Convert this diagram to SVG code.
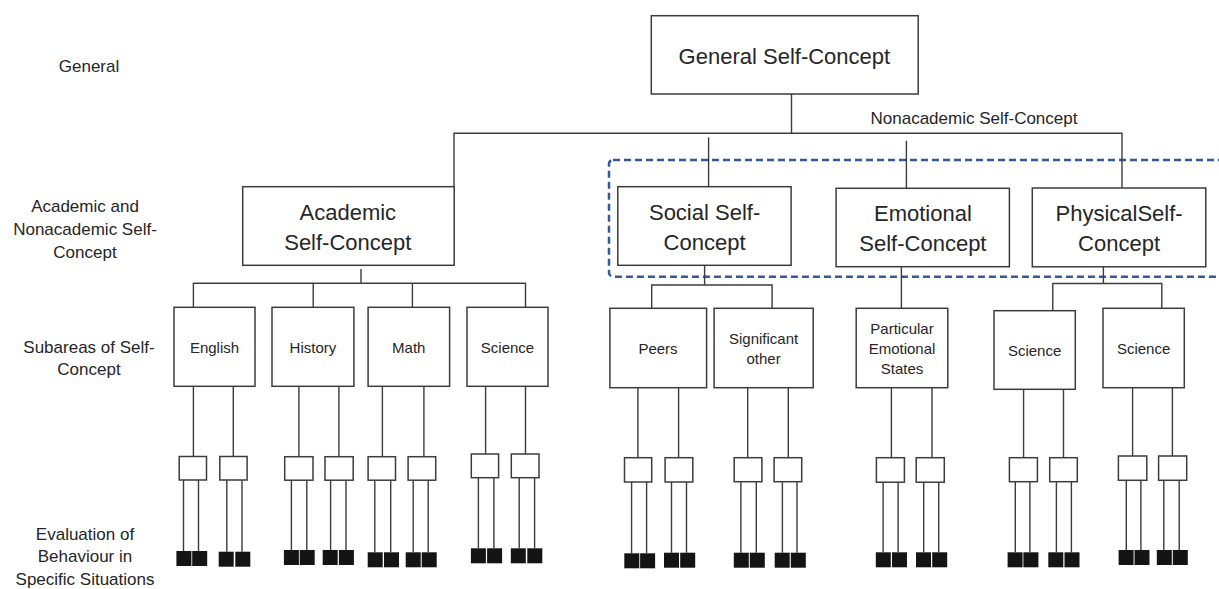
<svg xmlns="http://www.w3.org/2000/svg" width="1219" height="589" viewBox="0 0 1219 589">
  <style>
    .box { fill: #ffffff; stroke: #3c3c3c; stroke-width: 1.5; }
    .conn { fill: none; stroke: #3c3c3c; stroke-width: 1.4; }
    .blk { fill: #141414; }
    .group-frame { fill: none; stroke: #35589a; stroke-width: 2.5; stroke-dasharray: 7 4; }
    text { font-family: "Liberation Sans", Arial, sans-serif; fill: #262626; text-anchor: middle; }
    .big { font-size: 22px; }
    .lab { font-size: 17px; }
    .sm { font-size: 15px; }
  </style>

  <!-- level labels -->
  <g id="level-labels">
    <text class="lab" x="89" y="72">General</text>
    <text class="lab" x="85" y="212">Academic and</text>
    <text class="lab" x="85" y="235">Nonacademic Self-</text>
    <text class="lab" x="85" y="258">Concept</text>
    <text class="lab" x="89" y="352.5">Subareas of Self-</text>
    <text class="lab" x="89" y="375">Concept</text>
    <text class="lab" x="85" y="539.5">Evaluation of</text>
    <text class="lab" x="85" y="562">Behaviour in</text>
    <text class="lab" x="85" y="584.5">Specific Situations</text>
  </g>

  <!-- nonacademic grouping frame -->
  <g id="nonacademic-group">
    <rect class="group-frame" x="609" y="160" width="700" height="116.7" rx="4"/>
    <text class="lab" x="974" y="124">Nonacademic Self-Concept</text>
  </g>

  <!-- connectors -->
  <g id="connectors" class="conn">
    <path d="M791.5 94 V133.3"/>
    <path d="M454 186.7 V133.3 H1122 V187.7"/>
    <path d="M708.6 137.3 V186.7"/>
    <path d="M906.4 140.7 V188.3"/>

    <path d="M361 269 V283.3"/>
    <path d="M193.4 307.3 V283.3 H525.5 V307.3"/>
    <path d="M313.2 283.3 V307.3 M412.4 283.3 V307.3"/>

    <path d="M704.6 265.3 V285"/>
    <path d="M651.7 308.3 V285 H772.1 V308.3"/>
    <path d="M901.4 266.7 V308.3"/>
    <path d="M1103.4 266.7 V283.5"/>
    <path d="M1052.8 310.7 V283.5 H1161.8 V308.3"/>

    <!-- English -->
    <path d="M193.4 386.3 V456.5 M233.3 386.3 V456.5"/>
    <path d="M183.5 480 V551 M198.5 480 V551 M226.8 480 V551.7 M242 480 V551.7"/>
    <!-- History -->
    <path d="M298.9 386.3 V456.7 M338.9 386.3 V456.7"/>
    <path d="M291.4 480.2 V550 M306.8 480.2 V550 M330.6 480.2 V550 M346 480.2 V550"/>
    <!-- Math -->
    <path d="M382.4 386.3 V456.7 M423.9 386.3 V456.7"/>
    <path d="M374.8 480.2 V552.3 M390.7 480.2 V552.3 M413.2 480.2 V552.3 M428.2 480.2 V552.3"/>
    <!-- Science -->
    <path d="M485.6 386.3 V454 M525.5 386.3 V454"/>
    <path d="M478.4 477.7 V548.3 M493.9 477.7 V548.3 M519.2 477.7 V548.3 M534.6 477.7 V548.3"/>
    <!-- Peers -->
    <path d="M637.9 387.7 V457.7 M678.6 387.7 V457.7"/>
    <path d="M631.6 482 V553.3 M646.6 482 V553.3 M671.5 482 V552.7 M686.5 482 V552.7"/>
    <!-- Significant other -->
    <path d="M747.7 387.7 V457.7 M788.3 387.7 V457.7"/>
    <path d="M740.9 481.7 V552.7 M756.3 481.7 V552.7 M782.4 481.7 V552.7 M797 481.7 V552.7"/>
    <!-- Particular emotional states -->
    <path d="M891.4 387.7 V457.7 M932 387.7 V457.7"/>
    <path d="M883.1 482.2 V552.3 M898.1 482.2 V552.3 M923.7 482.2 V552.3 M938.7 482.2 V552.3"/>
    <!-- Physical science 1 -->
    <path d="M1023.6 389.3 V457.7 M1063.5 389.3 V457.7"/>
    <path d="M1015.3 481.7 V552.3 M1029.9 481.7 V552.3 M1056.4 481.7 V552.3 M1071.4 481.7 V552.3"/>
    <!-- Physical science 2 -->
    <path d="M1132.6 387.7 V456 M1172.4 387.7 V456"/>
    <path d="M1126.3 480.3 V550 M1140.9 480.3 V550 M1163.8 480.3 V550 M1179.2 480.3 V550"/>
  </g>

  <!-- top level -->
  <g id="general">
    <rect class="box" x="651.3" y="15.7" width="266.9" height="78.3"/>
    <text class="big" x="784.4" y="64">General Self-Concept</text>
  </g>

  <!-- second level -->
  <g id="academic">
    <rect class="box" x="242.7" y="186.7" width="211.5" height="78.6"/>
    <text class="big" x="347.8" y="220">Academic</text>
    <text class="big" x="347.8" y="250">Self-Concept</text>
  </g>
  <g id="social">
    <rect class="box" x="617.8" y="186.7" width="173.3" height="78.6"/>
    <text class="big" x="704.6" y="220">Social Self-</text>
    <text class="big" x="704.6" y="250">Concept</text>
  </g>
  <g id="emotional">
    <rect class="box" x="836.1" y="188.3" width="173.3" height="78.4"/>
    <text class="big" x="922.9" y="221">Emotional</text>
    <text class="big" x="922.9" y="251">Self-Concept</text>
  </g>
  <g id="physical">
    <rect class="box" x="1032.3" y="188" width="173.5" height="78.8"/>
    <text class="big" x="1119.1" y="221">PhysicalSelf-</text>
    <text class="big" x="1119.1" y="251">Concept</text>
  </g>

  <!-- subareas -->
  <g id="english">
    <rect class="box" x="174" y="307.3" width="81" height="79"/>
    <text class="sm" x="214.5" y="352.5">English</text>
  </g>
  <g id="history">
    <rect class="box" x="272" y="307.3" width="81.9" height="79"/>
    <text class="sm" x="312.9" y="352.5">History</text>
  </g>
  <g id="math">
    <rect class="box" x="368.1" y="307.3" width="81.5" height="79"/>
    <text class="sm" x="408.8" y="352.5">Math</text>
  </g>
  <g id="science-academic">
    <rect class="box" x="467" y="307.3" width="81" height="79"/>
    <text class="sm" x="507.5" y="352.5">Science</text>
  </g>
  <g id="peers">
    <rect class="box" x="609.9" y="308.3" width="96.7" height="79.4"/>
    <text class="sm" x="658" y="354">Peers</text>
  </g>
  <g id="significant-other">
    <rect class="box" x="714.1" y="308.3" width="99.1" height="79.4"/>
    <text class="sm" x="763.6" y="344.3">Significant</text>
    <text class="sm" x="763.6" y="364">other</text>
  </g>
  <g id="emotional-states">
    <rect class="box" x="856.2" y="308.3" width="91.6" height="79.4"/>
    <text class="sm" x="902" y="334">Particular</text>
    <text class="sm" x="902" y="354">Emotional</text>
    <text class="sm" x="902" y="373.5">States</text>
  </g>
  <g id="science-physical-1">
    <rect class="box" x="994" y="310.7" width="81.3" height="78.6"/>
    <text class="sm" x="1034.6" y="356">Science</text>
  </g>
  <g id="science-physical-2">
    <rect class="box" x="1103" y="308.3" width="81.3" height="79.4"/>
    <text class="sm" x="1143.6" y="354">Science</text>
  </g>

  <!-- specific situations -->
  <g id="situations-english">
    <rect class="box" x="179.2" y="456.5" width="27.3" height="23.5"/>
    <rect class="box" x="219.8" y="456.5" width="27.3" height="23.5"/>
    <rect class="blk" x="176.4" y="551" width="15" height="15"/>
    <rect class="blk" x="192.2" y="551" width="15" height="15"/>
    <rect class="blk" x="218.7" y="551.7" width="15" height="15"/>
    <rect class="blk" x="235.3" y="551.7" width="15" height="15"/>
  </g>
  <g id="situations-history">
    <rect class="box" x="284.7" y="456.7" width="28.3" height="23.5"/>
    <rect class="box" x="325" y="456.7" width="28.2" height="23.5"/>
    <rect class="blk" x="283.9" y="550" width="15" height="15"/>
    <rect class="blk" x="299.7" y="550" width="15" height="15"/>
    <rect class="blk" x="322.7" y="550" width="15" height="15"/>
    <rect class="blk" x="338.9" y="550" width="15" height="15"/>
  </g>
  <g id="situations-math">
    <rect class="box" x="368.1" y="456.7" width="27.4" height="23.5"/>
    <rect class="box" x="408.1" y="456.7" width="27.6" height="23.5"/>
    <rect class="blk" x="367.7" y="552.3" width="15" height="15"/>
    <rect class="blk" x="384" y="552.3" width="15" height="15"/>
    <rect class="blk" x="405.7" y="552.3" width="15" height="15"/>
    <rect class="blk" x="421.7" y="552.3" width="15" height="15"/>
  </g>
  <g id="situations-science-academic">
    <rect class="box" x="471.3" y="454" width="27.3" height="23.7"/>
    <rect class="box" x="511.3" y="454" width="27.7" height="23.7"/>
    <rect class="blk" x="470.9" y="548.3" width="15" height="15"/>
    <rect class="blk" x="487.1" y="548.3" width="15" height="15"/>
    <rect class="blk" x="510.8" y="548.3" width="15" height="15"/>
    <rect class="blk" x="527.3" y="548.3" width="15" height="15"/>
  </g>
  <g id="situations-peers">
    <rect class="box" x="624.5" y="457.7" width="27.2" height="24.3"/>
    <rect class="box" x="665.1" y="457.7" width="27.7" height="24.3"/>
    <rect class="blk" x="624.3" y="553.3" width="15" height="15"/>
    <rect class="blk" x="640.1" y="553.3" width="15" height="15"/>
    <rect class="blk" x="664" y="552.7" width="15" height="15"/>
    <rect class="blk" x="680.2" y="552.7" width="15" height="15"/>
  </g>
  <g id="situations-significant-other">
    <rect class="box" x="734.2" y="457.7" width="27.7" height="24"/>
    <rect class="box" x="774.1" y="457.7" width="27.6" height="24"/>
    <rect class="blk" x="733.8" y="552.7" width="15" height="15"/>
    <rect class="blk" x="749.8" y="552.7" width="15" height="15"/>
    <rect class="blk" x="774.7" y="552.7" width="15" height="15"/>
    <rect class="blk" x="790.8" y="552.7" width="15" height="15"/>
  </g>
  <g id="situations-emotional-states">
    <rect class="box" x="876.4" y="457.7" width="28" height="24.5"/>
    <rect class="box" x="916.2" y="457.7" width="28.1" height="24.5"/>
    <rect class="blk" x="875.8" y="552.3" width="15" height="15"/>
    <rect class="blk" x="892" y="552.3" width="15" height="15"/>
    <rect class="blk" x="916" y="552.3" width="15" height="15"/>
    <rect class="blk" x="932.2" y="552.3" width="15" height="15"/>
  </g>
  <g id="situations-science-physical-1">
    <rect class="box" x="1009.4" y="457.7" width="28" height="24"/>
    <rect class="box" x="1049.7" y="457.7" width="27.6" height="24"/>
    <rect class="blk" x="1007.6" y="552.3" width="15" height="15"/>
    <rect class="blk" x="1023.4" y="552.3" width="15" height="15"/>
    <rect class="blk" x="1048.3" y="552.3" width="15" height="15"/>
    <rect class="blk" x="1064.5" y="552.3" width="15" height="15"/>
  </g>
  <g id="situations-science-physical-2">
    <rect class="box" x="1118.4" y="456" width="28.4" height="24.3"/>
    <rect class="box" x="1158.6" y="456" width="28.1" height="24.3"/>
    <rect class="blk" x="1118.6" y="550" width="15" height="15"/>
    <rect class="blk" x="1134.5" y="550" width="15" height="15"/>
    <rect class="blk" x="1156.8" y="550" width="15" height="15"/>
    <rect class="blk" x="1172.8" y="550" width="15" height="15"/>
  </g>
</svg>
